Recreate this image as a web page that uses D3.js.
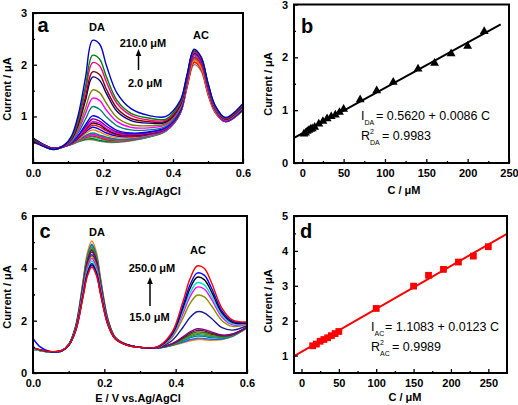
<!DOCTYPE html>
<html><head><meta charset="utf-8">
<script src="https://cdn.jsdelivr.net/npm/d3@7"></script>
<style>
body{margin:0;background:#fff}
text{font-family:"Liberation Sans",Arial,sans-serif}
</style>
</head><body>
<svg id="chart" width="518" height="405"></svg>
<script>
// ---------- Panel a: DPV curves, DA varied ----------
const potentialA = [0.00,0.03,0.06,0.09,0.11,0.13,0.15,0.17,0.19,0.21,0.24,0.28,0.33,0.38,0.42,0.44,0.46,0.48,0.50,0.52,0.55,0.60];
const curvesA = [
 [0.56,0.45,0.38,0.42,0.46,0.51,0.55,0.55,0.52,0.50,0.50,0.53,0.60,0.72,1.05,1.55,2.00,1.88,1.42,1.08,0.90,1.12],
 [0.54,0.44,0.37,0.42,0.46,0.52,0.56,0.57,0.54,0.52,0.51,0.54,0.60,0.72,1.05,1.58,2.05,1.93,1.45,1.09,0.90,1.13],
 [0.58,0.46,0.38,0.42,0.46,0.52,0.58,0.60,0.57,0.54,0.52,0.55,0.61,0.73,1.06,1.62,2.11,1.98,1.48,1.10,0.90,1.12],
 [0.50,0.43,0.37,0.42,0.47,0.53,0.59,0.62,0.59,0.55,0.53,0.55,0.62,0.73,1.06,1.58,2.04,1.92,1.44,1.09,0.90,1.13],
 [0.56,0.45,0.38,0.42,0.47,0.53,0.61,0.64,0.61,0.57,0.54,0.56,0.62,0.73,1.06,1.63,2.13,2.00,1.49,1.11,0.90,1.13],
 [0.52,0.44,0.37,0.42,0.47,0.54,0.61,0.65,0.62,0.58,0.55,0.56,0.62,0.73,1.06,1.61,2.09,1.97,1.47,1.10,0.90,1.13],
 [0.57,0.45,0.38,0.42,0.47,0.55,0.63,0.68,0.64,0.60,0.56,0.57,0.63,0.74,1.07,1.66,2.17,2.03,1.51,1.12,0.91,1.13],
 [0.53,0.44,0.37,0.42,0.48,0.56,0.67,0.74,0.70,0.64,0.59,0.59,0.64,0.75,1.08,1.61,2.08,1.95,1.47,1.10,0.91,1.13],
 [0.58,0.46,0.38,0.42,0.48,0.58,0.70,0.79,0.75,0.68,0.62,0.61,0.65,0.75,1.08,1.69,2.21,2.08,1.54,1.13,0.91,1.14],
 [0.51,0.44,0.37,0.42,0.48,0.59,0.73,0.83,0.80,0.72,0.64,0.62,0.66,0.76,1.09,1.65,2.14,2.01,1.51,1.12,0.91,1.14],
 [0.57,0.45,0.38,0.43,0.49,0.60,0.76,0.87,0.84,0.75,0.66,0.64,0.67,0.77,1.09,1.71,2.25,2.11,1.56,1.14,0.91,1.14],
 [0.53,0.44,0.37,0.43,0.49,0.61,0.77,0.90,0.87,0.77,0.68,0.65,0.68,0.77,1.10,1.68,2.19,2.06,1.53,1.13,0.91,1.15],
 [0.56,0.45,0.38,0.43,0.49,0.63,0.80,0.95,0.91,0.81,0.70,0.66,0.69,0.78,1.10,1.69,2.21,2.07,1.54,1.14,0.92,1.15],
 [0.55,0.44,0.37,0.43,0.50,0.64,0.84,1.01,0.97,0.86,0.73,0.68,0.70,0.79,1.11,1.73,2.27,2.13,1.58,1.15,0.92,1.15],
 [0.52,0.44,0.37,0.43,0.51,0.69,0.95,1.19,1.14,0.99,0.82,0.74,0.74,0.81,1.14,1.71,2.21,2.08,1.56,1.15,0.93,1.17],
 [0.56,0.44,0.37,0.43,0.53,0.74,1.06,1.35,1.31,1.12,0.90,0.79,0.78,0.84,1.16,1.72,2.22,2.09,1.57,1.16,0.93,1.18],
 [0.54,0.43,0.37,0.44,0.54,0.78,1.16,1.51,1.46,1.25,0.98,0.84,0.82,0.86,1.18,1.75,2.26,2.13,1.60,1.17,0.94,1.19],
 [0.55,0.43,0.37,0.44,0.56,0.85,1.31,1.76,1.70,1.44,1.10,0.92,0.87,0.89,1.21,1.74,2.22,2.10,1.59,1.18,0.95,1.21],
 [0.57,0.43,0.37,0.44,0.57,0.89,1.38,1.86,1.81,1.52,1.16,0.96,0.90,0.91,1.22,1.77,2.27,2.14,1.62,1.19,0.95,1.21],
 [0.53,0.43,0.37,0.44,0.58,0.94,1.49,2.04,1.98,1.66,1.25,1.02,0.93,0.93,1.25,1.77,2.24,2.12,1.62,1.19,0.96,1.23],
 [0.55,0.42,0.36,0.45,0.59,0.98,1.58,2.18,2.11,1.76,1.31,1.06,0.97,0.95,1.27,1.80,2.28,2.16,1.64,1.21,0.97,1.24],
 [0.52,0.42,0.36,0.45,0.62,1.05,1.75,2.47,2.40,1.98,1.45,1.15,1.02,1.00,1.30,1.80,2.30,2.15,1.65,1.22,0.98,1.25]
];
const colorsA = ["#808080","#008000","#00c0c0","#ff0000","#808000","#ff00ff","#008080","#ff8000","#0000ff","#ff0000","#000000","#ff00ff","#800080",
 "#0000ff","#008080","#ff00ff","#808000","#000080","#800000","#ff0080","#008000","#0000cc"];

// ---------- Panel b: DA calibration ----------
const concB = [2,4,6,8,10,12,15,20,25,30,35,40,45,50,70,90,110,140,160,180,200,220];
const currB = [0.55,0.57,0.60,0.62,0.64,0.65,0.68,0.74,0.79,0.84,0.88,0.91,0.96,1.02,1.20,1.37,1.53,1.78,1.89,2.07,2.21,2.49];
const fitB = [0.5620, 0.0086];      // intercept, slope
const fitRangeB = [-10, 240];

// ---------- Panel c: DPV curves, AC varied ----------
const potentialC = [0.00,0.02,0.05,0.08,0.10,0.12,0.14,0.152,0.165,0.178,0.19,0.21,0.23,0.26,0.30,0.35,0.39,0.42,0.44,0.46,0.48,0.50,0.53,0.56,0.60];
const curvesC = [
 [0.93,0.87,0.80,0.84,1.09,1.83,3.50,4.56,5.05,4.60,3.58,2.07,1.38,1.10,0.98, 0.95,1.05,1.15,1.23,1.28,1.27,1.25,1.28,1.40,1.72],
 [0.95,0.88,0.80,0.84,1.08,1.80,3.42,4.44,4.92,4.48,3.50,2.04,1.37,1.10,0.98, 0.95,1.06,1.18,1.27,1.33,1.32,1.29,1.30,1.41,1.72],
 [0.90,0.86,0.79,0.84,1.08,1.79,3.39,4.41,4.88,4.45,3.47,2.03,1.37,1.10,0.98, 0.95,1.07,1.22,1.34,1.41,1.40,1.35,1.34,1.43,1.73],
 [0.94,0.87,0.80,0.84,1.08,1.78,3.36,4.35,4.82,4.39,3.44,2.01,1.36,1.10,0.98, 0.95,1.08,1.25,1.38,1.46,1.44,1.39,1.36,1.44,1.73],
 [0.92,0.86,0.80,0.84,1.08,1.77,3.33,4.32,4.78,4.36,3.41,2.00,1.36,1.10,0.98, 0.96,1.09,1.28,1.42,1.51,1.49,1.43,1.38,1.45,1.74],
 [0.95,0.88,0.81,0.85,1.08,1.76,3.29,4.27,4.72,4.31,3.37,1.99,1.35,1.09,0.98, 0.96,1.10,1.31,1.47,1.57,1.55,1.48,1.40,1.46,1.74],
 [0.91,0.86,0.80,0.84,1.07,1.75,3.27,4.23,4.68,4.27,3.35,1.98,1.35,1.09,0.98, 0.96,1.11,1.34,1.52,1.63,1.61,1.52,1.43,1.48,1.75],
 [0.93,0.87,0.80,0.84,1.07,1.74,3.23,4.18,4.62,4.22,3.31,1.97,1.35,1.09,0.98, 0.96,1.12,1.38,1.57,1.69,1.66,1.57,1.45,1.49,1.75],
 [0.94,0.88,0.81,0.85,1.07,1.72,3.17,4.09,4.52,4.13,3.25,1.94,1.34,1.09,0.98, 0.97,1.24,1.74,2.12,2.34,2.30,2.09,1.73,1.64,1.81],
 [0.92,0.86,0.80,0.84,1.06,1.71,3.13,4.04,4.46,4.08,3.21,1.93,1.34,1.09,0.98, 0.98,1.36,2.09,2.65,2.97,2.91,2.58,2.00,1.78,1.86],
 [0.95,0.88,0.81,0.85,1.06,1.69,3.08,3.97,4.38,4.01,3.16,1.91,1.33,1.09,0.98, 0.99,1.41,2.26,2.91,3.28,3.21,2.83,2.13,1.84,1.88],
 [0.91,0.86,0.80,0.84,1.06,1.67,3.02,3.88,4.28,3.92,3.10,1.88,1.32,1.09,0.98, 0.99,1.44,2.36,3.05,3.45,3.37,2.96,2.20,1.88,1.90],
 [0.96,0.88,0.81,0.85,1.05,1.65,2.96,3.79,4.18,3.83,3.04,1.86,1.32,1.09,0.98, 1.00,1.48,2.47,3.22,3.66,3.57,3.12,2.29,1.93,1.91],
 [1.32,1.00,0.81,0.85,1.05,1.63,2.92,3.74,4.12,3.78,3.00,1.85,1.31,1.09,0.98, 1.00,1.51,2.56,3.36,3.82,3.74,3.26,2.36,1.97,1.93],
 [0.97,0.89,0.82,0.86,1.05,1.62,2.88,3.68,4.05,3.72,2.96,1.83,1.31,1.08,0.98, 1.01,1.56,2.71,3.59,4.09,4.00,3.47,2.47,2.02,1.95]
];
const colorsC = ["#ff8000","#2060ff","#008080","#00a0a0","#808000","#008000","#800040","#800080",
 "#1a1a9a","#909000","#ff00ff","#00e0e0","#000000","#0000ff","#ff0000"];

// ---------- Panel d: AC calibration ----------
const concD = [15,20,25,30,35,40,45,50,100,150,170,190,210,230,250];
const currD = [1.28,1.33,1.41,1.46,1.51,1.57,1.63,1.69,2.35,2.99,3.30,3.47,3.68,3.85,4.12];
const fitD = [1.1083, 0.0123];
const fitRangeD = [-10, 275];

// ---------- tick values ----------
const ticksEmajor = [0,0.2,0.4,0.6], ticksEminor = [0.1,0.3,0.5];
const ticksAmajor = [1,2,3], ticksAminor = [0.5,1.5,2.5];
const ticksBxMajor = [0,50,100,150,200,250], ticksBxMinor = [25,75,125,175,225];
const ticksByMajor = [0,1,2,3], ticksByMinor = [0.5,1.5,2.5];
const ticksCyMajor = [0,2,4,6], ticksCyMinor = [1,3,5];
const ticksDyMajor = [1,2,3,4,5], ticksDyMinor = [1.5,2.5,3.5,4.5];

const svg = d3.select("#chart");

function makePanel(o) {
  const g = svg.append("g");
  const x = d3.scaleLinear().domain(o.xdom).range([o.x0, o.x1]);
  const y = d3.scaleLinear().domain(o.ydom).range([o.y1, o.y0]);
  const clipId = "clip" + o.id;
  svg.append("clipPath").attr("id", clipId).append("rect")
    .attr("x", o.x0).attr("y", o.y0).attr("width", o.x1 - o.x0).attr("height", o.y1 - o.y0);
  const plot = g.append("g").attr("clip-path", `url(#${clipId})`);
  const ax = g.append("g").attr("transform", `translate(0,${o.y1})`)
    .call(d3.axisBottom(x).tickValues(o.xt).tickFormat(o.xfmt).tickSizeInner(-4).tickSizeOuter(0).tickPadding(6));
  const axm = g.append("g").attr("transform", `translate(0,${o.y1})`)
    .call(d3.axisBottom(x).tickValues(o.xm).tickFormat("").tickSizeInner(-2).tickSizeOuter(0));
  const ay = g.append("g").attr("transform", `translate(${o.x0},0)`)
    .call(d3.axisLeft(y).tickValues(o.yt).tickFormat(d3.format("d")).tickSizeInner(-4).tickSizeOuter(0).tickPadding(6));
  const aym = g.append("g").attr("transform", `translate(${o.x0},0)`)
    .call(d3.axisLeft(y).tickValues(o.ym).tickFormat("").tickSizeInner(-2).tickSizeOuter(0));
  [ax, axm, ay, aym].forEach(a => {
    a.select(".domain").remove();
    a.selectAll("line").attr("stroke", "#000").attr("stroke-width", 1.3);
    a.selectAll("text").attr("font-family", '"Liberation Sans",Arial,sans-serif')
      .attr("font-size", 11).attr("font-weight", "bold").attr("fill", "#000");
  });
  g.append("rect").attr("x", o.x0).attr("y", o.y0).attr("width", o.x1 - o.x0).attr("height", o.y1 - o.y0)
    .attr("fill", "none").attr("stroke", "#000").attr("stroke-width", 2);
  return {g, plot, x, y};
}

function label(x, y, txt, opts = {}) {
  const t = svg.append("text").attr("x", x).attr("y", y).text(txt)
    .attr("font-size", opts.size || 11).attr("font-weight", opts.weight || "bold")
    .attr("text-anchor", opts.anchor || "middle").attr("fill", opts.fill || "#000");
  if (opts.rotate) t.attr("transform", `rotate(-90,${x},${y})`);
  return t;
}

function arrow(x, yFrom, yTo) {
  svg.append("line").attr("x1", x).attr("x2", x).attr("y1", yFrom).attr("y2", yTo + 5)
    .attr("stroke", "#000").attr("stroke-width", 1.5);
  svg.append("path").attr("d", `M${x},${yTo} L${x-2.8},${yTo+7} L${x+2.8},${yTo+7} Z`).attr("fill", "#000");
}

// ---- Panel a ----
const pa = makePanel({id:"a", x0:33, x1:243, y0:13, y1:163, xdom:[0,0.6], ydom:[0.1,3],
  xt:ticksEmajor, xm:ticksEminor, yt:ticksAmajor, ym:ticksAminor, xfmt:d3.format(".1f")});
const lineA = d3.line().x((d,i) => pa.x(potentialA[i])).y(d => pa.y(d)).curve(d3.curveCatmullRom.alpha(0.5));
pa.plot.selectAll("path.ca").data(curvesA).enter().append("path")
  .attr("d", lineA).attr("fill", "none").attr("stroke", (d,i) => colorsA[i]).attr("stroke-width", 1.4);
label(43, 32, "a", {size:20});
label(97, 31, "DA");
label(201, 39, "AC");
label(143, 47, "210.0 \u03bcM");
label(145, 87, "2.0 \u03bcM");
arrow(138.5, 70, 49);
label(138, 195, "E / V vs.Ag/AgCl");
label(11, 89, "Current / \u03bcA", {rotate:true});

// ---- Panel b ----
const pb = makePanel({id:"b", x0:294, x1:509, y0:4.5, y1:163, xdom:[-10,250], ydom:[0,3],
  xt:ticksBxMajor, xm:ticksBxMinor, yt:ticksByMajor, ym:ticksByMinor, xfmt:d3.format("d")});
pb.plot.append("line")
  .attr("x1", pb.x(fitRangeB[0])).attr("y1", pb.y(fitB[0] + fitB[1]*fitRangeB[0]))
  .attr("x2", pb.x(fitRangeB[1])).attr("y2", pb.y(fitB[0] + fitB[1]*fitRangeB[1]))
  .attr("stroke", "#000").attr("stroke-width", 2);
pb.plot.selectAll("path.tri").data(concB).enter().append("path")
  .attr("d", d3.symbol().type(d3.symbolTriangle).size(34))
  .attr("transform", (d,i) => `translate(${pb.x(d)},${pb.y(currB[i])})`).attr("fill", "#000");
label(307, 33, "b", {size:20});
label(404, 194, "C / \u03bcM");
label(272, 84, "Current / \u03bcA", {rotate:true});
label(361, 120, "I", {weight:"normal", size:12.5, anchor:"start"});
label(364.5, 124.5, "DA", {weight:"normal", size:7, anchor:"start"});
label(376, 120, "= 0.5620 + 0.0086 C", {weight:"normal", size:12.5, anchor:"start"});
label(361, 140, "R", {weight:"normal", size:12.5, anchor:"start"});
label(370, 134, "2", {weight:"normal", size:7, anchor:"start"});
label(370, 145, "DA", {weight:"normal", size:7, anchor:"start"});
label(382, 140, "= 0.9983", {weight:"normal", size:12.5, anchor:"start"});

// ---- Panel c ----
const pc = makePanel({id:"c", x0:33, x1:247, y0:216, y1:373, xdom:[0,0.6], ydom:[0,6],
  xt:ticksEmajor, xm:ticksEminor, yt:ticksCyMajor, ym:ticksCyMinor, xfmt:d3.format(".1f")});
const lineC = d3.line().x((d,i) => pc.x(potentialC[i])).y(d => pc.y(d)).curve(d3.curveCatmullRom.alpha(0.5));
pc.plot.selectAll("path.cc").data(curvesC).enter().append("path")
  .attr("d", lineC).attr("fill", "none").attr("stroke", (d,i) => colorsC[i]).attr("stroke-width", 1.4);
label(45, 238, "c", {size:20});
label(97, 235.5, "DA");
label(198, 254, "AC");
label(152, 272, "250.0 \u03bcM");
label(149.5, 321, "15.0 \u03bcM");
arrow(150, 306, 277);
label(138, 402, "E / V vs.Ag/AgCl");
label(11, 297, "Current / \u03bcA", {rotate:true});

// ---- Panel d ----
const pd = makePanel({id:"d", x0:294, x1:507, y0:216, y1:373, xdom:[-10,275], ydom:[0.5,5],
  xt:ticksBxMajor, xm:ticksBxMinor, yt:ticksDyMajor, ym:ticksDyMinor, xfmt:d3.format("d")});
pd.plot.append("line")
  .attr("x1", pd.x(fitRangeD[0])).attr("y1", pd.y(fitD[0] + fitD[1]*fitRangeD[0]))
  .attr("x2", pd.x(fitRangeD[1])).attr("y2", pd.y(fitD[0] + fitD[1]*fitRangeD[1]))
  .attr("stroke", "#ff0000").attr("stroke-width", 2);
pd.plot.selectAll("path.sq").data(concD).enter().append("path")
  .attr("d", d3.symbol().type(d3.symbolSquare).size(46))
  .attr("transform", (d,i) => `translate(${pd.x(d)},${pd.y(currD[i])})`).attr("fill", "#ff0000");
label(306, 238, "d", {size:20});
label(405, 401, "C / \u03bcM");
label(272, 301, "Current / \u03bcA", {rotate:true});
label(371, 331, "I", {weight:"normal", size:12.5, anchor:"start"});
label(374.5, 335.5, "AC", {weight:"normal", size:7, anchor:"start"});
label(385, 331, "= 1.1083 + 0.0123 C", {weight:"normal", size:12.5, anchor:"start"});
label(371, 351, "R", {weight:"normal", size:12.5, anchor:"start"});
label(380, 345, "2", {weight:"normal", size:7, anchor:"start"});
label(380, 356, "AC", {weight:"normal", size:7, anchor:"start"});
label(392, 351, "= 0.9989", {weight:"normal", size:12.5, anchor:"start"});
</script>
</body></html>
